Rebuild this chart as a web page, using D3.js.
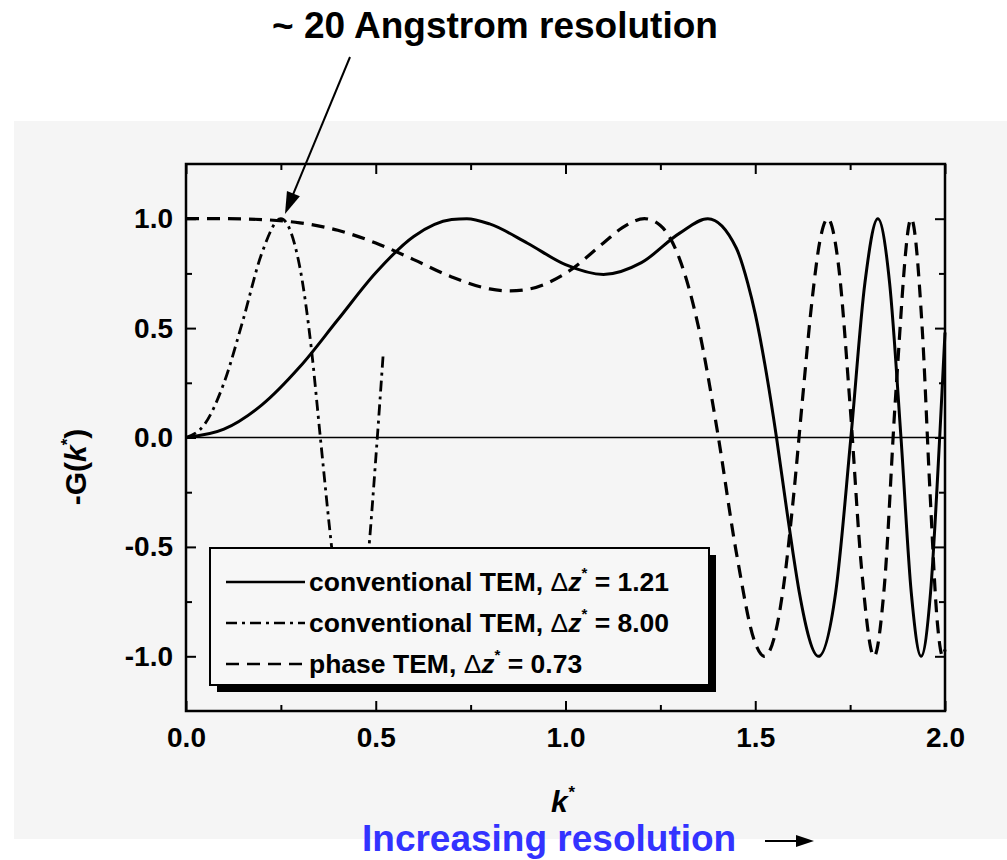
<!DOCTYPE html>
<html>
<head>
<meta charset="utf-8">
<script src="https://cdn.jsdelivr.net/npm/d3@7"></script>
<style>
  body { margin: 0; background: #fff; }
  text { font-family: "Liberation Sans", Arial, sans-serif; }
</style>
</head>
<body>
<script>
var w = 1007;
var h = 860;

// values: [k*, -G(k*)]
var convSolid = [[0,0],[0.1,0.038],[0.2,0.149],[0.3,0.323],[0.4,0.538],[0.5,0.753],[0.6,0.919],
    [0.7,0.996],[0.74,1.0],[0.8,0.976],[0.9,0.888],[1.0,0.790],[1.1,0.745],[1.2,0.799],[1.3,0.933],
    [1.375,1.0],[1.45,0.866],[1.48,0.707],[1.5,0.565],[1.53,0.287],[1.556,0],[1.58,-0.295],[1.6,-0.534],
    [1.616,-0.707],[1.667,-1.0],[1.712,-0.707],[1.752,0],[1.789,0.707],[1.823,1.0],[1.854,0.707],
    [1.884,0],[1.911,-0.707],[1.937,-1.0],[1.962,-0.707],[1.986,0],[2.0,0.48]];

var convDashDot = [[0,0],[0.05,0.063],[0.1,0.249],[0.15,0.535],[0.2,0.843],[0.25,1.0],[0.3,0.778],
    [0.33,0.411],[0.354,0],[0.38,-0.441],[0.4,-0.743],[0.433,-1.0],[0.46,-0.865],[0.48,-0.544],
    [0.5,-0.098],[0.52,0.391]];

var phaseDashed = [[0,1.0],[0.1,1.0],[0.2,0.996],[0.3,0.981],[0.4,0.947],[0.5,0.889],[0.6,0.813],
    [0.7,0.734],[0.8,0.679],[0.854,0.670],[0.9,0.677],[1.0,0.750],[1.1,0.889],[1.15,0.959],[1.208,1.0],
    [1.25,0.969],[1.3,0.819],[1.35,0.508],[1.4,0.031],[1.45,-0.524],[1.5,-0.940],[1.524,-1.0],
    [1.55,-0.915],[1.575,-0.674],[1.6,-0.285],[1.625,0.184],[1.65,0.632],[1.67,0.895],[1.691,1.0],
    [1.72,0.778],[1.75,0.144],[1.78,-0.597],[1.813,-1.0],[1.84,-0.683],[1.87,0.192],[1.911,1.0],
    [1.94,0.496],[1.96,-0.232],[1.98,-0.849],[1.994,-1.0],[2.0,-0.969]];

var xMajor = [0, 0.5, 1.0, 1.5, 2.0];
var xMinor = [0.25, 0.75, 1.25, 1.75];
var yMajor = [-1.0, -0.5, 0, 0.5, 1.0];
var yMinor = [-0.75, -0.25, 0.25, 0.75];

var legendNames = ["conventional TEM, ", "conventional TEM, ", "phase TEM, "];
var legendValues = ["1.21", "8.00", "0.73"];
var legendDash = ["none", "11,5,3,5", "13,8"];

var x = d3.scaleLinear().domain([0, 2]).range([186, 945]);
var y = d3.scaleLinear().domain([-1.25, 1.25]).range([711, 164]);
var fmt = function (d) { return d.toFixed(1); };

var svg = d3.select("body")
        .append("svg")
        .attr("width", w)
        .attr("height", h);

// scanned page background
svg.append("rect")
        .attr("x", 14).attr("y", 121)
        .attr("width", w - 14).attr("height", 718)
        .style("fill", "#f5f5f5");

// title + arrow
svg.append("text")
        .attr("x", 495).attr("y", 38)
        .attr("text-anchor", "middle")
        .style("font-size", "37px").style("font-weight", "bold")
        .text("~ 20 Angstrom resolution");

function arrow(x1, y1, x2, y2, len, half) {
    var a = Math.atan2(y2 - y1, x2 - x1);
    svg.append("line")
            .attr("x1", x1).attr("y1", y1)
            .attr("x2", x2 - Math.cos(a) * len * 0.8).attr("y2", y2 - Math.sin(a) * len * 0.8)
            .style("stroke", "#000").style("stroke-width", 2);
    var bx = x2 - Math.cos(a) * len, by = y2 - Math.sin(a) * len;
    svg.append("path")
            .attr("d", "M" + x2 + "," + y2 +
                    "L" + (bx - Math.sin(a) * half) + "," + (by + Math.cos(a) * half) +
                    "L" + (bx + Math.sin(a) * half) + "," + (by - Math.cos(a) * half) + "Z")
            .style("fill", "#000");
}
arrow(350, 57, 285, 214, 22, 7);

// axes: ticks point inward
function ticks(axis, vals, size, labels, pad) {
    return axis.tickValues(vals).tickSizeInner(size).tickSizeOuter(0)
            .tickPadding(pad || 0).tickFormat(labels ? fmt : "");
}
function drawAxis(gen, tx, ty) {
    var g = svg.append("g").attr("transform", "translate(" + tx + "," + ty + ")").call(gen);
    g.select(".domain").remove();
    g.selectAll(".tick line").style("stroke", "#000").style("stroke-width", 2);
    g.selectAll("text").style("font-size", "28px").style("font-weight", "bold")
            .style("font-family", "'Liberation Sans', Arial, sans-serif").style("fill", "#000");
    return g;
}
drawAxis(ticks(d3.axisBottom(x), xMajor, -10, true, 16), 0, 711);
drawAxis(ticks(d3.axisBottom(x), xMinor, -6, false), 0, 711);
drawAxis(ticks(d3.axisTop(x), xMajor, -10, false), 0, 164);
drawAxis(ticks(d3.axisTop(x), xMinor, -6, false), 0, 164);
drawAxis(ticks(d3.axisLeft(y), yMajor, -10, true, 13), 186, 0);
drawAxis(ticks(d3.axisLeft(y), yMinor, -6, false), 186, 0);
drawAxis(ticks(d3.axisRight(y), yMajor, -10, false), 945, 0);
drawAxis(ticks(d3.axisRight(y), yMinor, -6, false), 945, 0);

// frame
svg.append("rect")
        .attr("x", 186).attr("y", 164)
        .attr("width", 945 - 186).attr("height", 711 - 164)
        .style("fill", "none").style("stroke", "#000").style("stroke-width", 2.5);

// zero line
svg.append("line")
        .attr("x1", x(0)).attr("x2", x(2))
        .attr("y1", y(0)).attr("y2", y(0))
        .style("stroke", "#000").style("stroke-width", 1.5);

// curves
var line = d3.line()
        .x(function (d) { return x(d[0]); })
        .y(function (d) { return y(d[1]); })
        .curve(d3.curveMonotoneX);

svg.append("path").datum(convDashDot).attr("d", line)
        .style("fill", "none").style("stroke", "#000").style("stroke-width", 2.8)
        .style("stroke-dasharray", legendDash[1]);
svg.append("path").datum(phaseDashed).attr("d", line)
        .style("fill", "none").style("stroke", "#000").style("stroke-width", 3.2)
        .style("stroke-dasharray", legendDash[2]);
svg.append("path").datum(convSolid).attr("d", line)
        .style("fill", "none").style("stroke", "#000").style("stroke-width", 3);

// legend
svg.append("rect")
        .attr("x", 217).attr("y", 555).attr("width", 499).attr("height", 137)
        .style("fill", "#000");
svg.append("rect")
        .attr("x", 210).attr("y", 548).attr("width", 499).attr("height", 137)
        .style("fill", "#f7f7f7").style("stroke", "#000").style("stroke-width", 2);

var rows = svg.selectAll(".leg")
        .data(legendNames)
        .enter()
        .append("g")
        .attr("class", "leg")
        .attr("transform", function (d, i) { return "translate(0," + (582 + i * 41) + ")"; });

rows.append("line")
        .attr("x1", 226).attr("x2", 305)
        .style("stroke", "#000").style("stroke-width", 2.5)
        .style("stroke-dasharray", function (d, i) { return legendDash[i]; });

var lt = rows.append("text")
        .attr("x", 309).attr("y", 9)
        .style("font-size", "26.5px").style("font-weight", "bold");
lt.append("tspan").text(function (d) { return d; });
lt.append("tspan").style("font-weight", "normal").text("\u0394");
lt.append("tspan").style("font-style", "italic").text("z");
lt.append("tspan").attr("dy", -13).style("font-size", "15px").text("*");
lt.append("tspan").attr("dy", 13).text(function (d, i) { return " = " + legendValues[i]; });

// axis titles
var yt = svg.append("text")
        .attr("transform", "translate(86,467) rotate(-90)")
        .attr("text-anchor", "middle")
        .style("font-size", "30px").style("font-weight", "bold");
yt.append("tspan").text("-G(");
yt.append("tspan").style("font-style", "italic").text("k");
yt.append("tspan").attr("dy", -13).style("font-size", "17px").text("*");
yt.append("tspan").attr("dy", 13).text(")");

var xt = svg.append("text")
        .attr("x", 551).attr("y", 812)
        .style("font-size", "30px").style("font-weight", "bold").style("font-style", "italic");
xt.append("tspan").text("k");
xt.append("tspan").attr("dy", -14).style("font-size", "17px").text("*");

// bottom note
svg.append("text")
        .attr("x", 362).attr("y", 851)
        .style("font-size", "37px").style("font-weight", "bold").style("fill", "#3333ff")
        .text("Increasing resolution");
arrow(765, 841, 814, 841, 18, 6);
</script>
</body>
</html>
